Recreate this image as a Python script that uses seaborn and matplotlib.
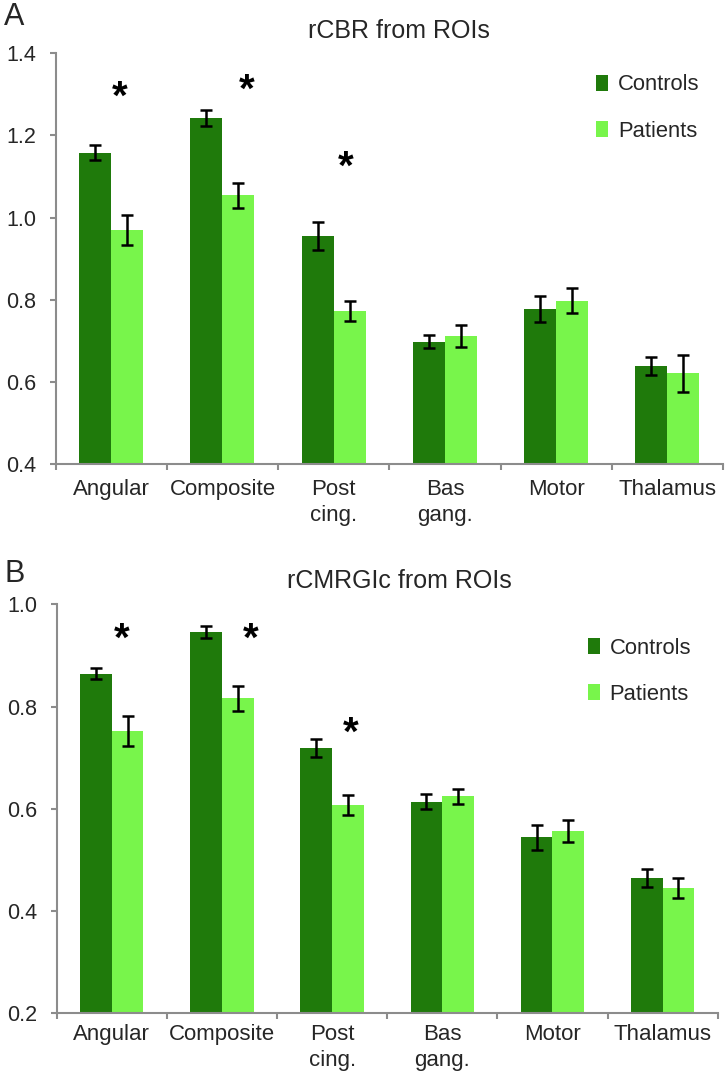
import numpy as np
import pandas as pd
import matplotlib
matplotlib.use("Agg")
import matplotlib.pyplot as plt
import seaborn as sns

regions = ["Angular", "Composite", "Post\ncing.", "Bas\ngang.", "Motor", "Thalamus"]
groups = ["Controls", "Patients"]

cbr_controls = [1.158, 1.242, 0.954, 0.698, 0.777, 0.638]
cbr_patients = [0.970, 1.054, 0.773, 0.712, 0.798, 0.621]
cbr_controls_err = [0.019, 0.019, 0.034, 0.016, 0.031, 0.022]
cbr_patients_err = [0.036, 0.031, 0.024, 0.027, 0.030, 0.045]

glc_controls = [0.864, 0.946, 0.719, 0.614, 0.544, 0.464]
glc_patients = [0.752, 0.816, 0.607, 0.624, 0.556, 0.445]
glc_controls_err = [0.011, 0.011, 0.018, 0.015, 0.025, 0.018]
glc_patients_err = [0.029, 0.025, 0.019, 0.015, 0.021, 0.020]

# significance stars: (category index + offset, value)
cbr_stars = [(0.075, 1.291), (1.217, 1.308), (2.104, 1.122)]
glc_stars = [(0.09, 0.930), (1.26, 0.930), (2.17, 0.7475)]

colors = ["#1f7a0b", "#78f54b"]
FONT = "Liberation Sans"

sns.set_theme(style="white")
plt.rcParams["font.family"] = [FONT, "DejaVu Sans"]

fig = plt.figure(figsize=(7.27, 10.74), dpi=100)


def panel(rect, ctrl, pat, ctrl_err, pat_err, ylim, yticks, stars, title, letter,
          title_y, letter_y, leg_anchor, xpad):
    ax = fig.add_axes(rect)
    df = pd.DataFrame({
        "region": regions * 2,
        "group": [groups[0]] * len(regions) + [groups[1]] * len(regions),
        "value": list(ctrl) + list(pat),
        "err": list(ctrl_err) + list(pat_err),
    })
    sns.barplot(data=df, x="region", y="value", hue="group", order=regions,
                hue_order=groups, palette=colors, width=0.575, gap=0,
                errorbar=None, saturation=1, linewidth=0, ax=ax)
    for cont, errs in zip(ax.containers, [ctrl_err, pat_err]):
        xs = [p.get_x() + p.get_width() / 2 for p in cont.patches]
        ys = [p.get_height() for p in cont.patches]
        ax.errorbar(xs, ys, yerr=errs, fmt="none", ecolor="black",
                    elinewidth=1.8, capsize=4.2, capthick=1.8, zorder=5)
    ax.set_ylim(*ylim)
    ax.set_xlim(-0.5, len(regions) - 0.5)
    ax.set_yticks(yticks)
    ax.set_yticklabels([f"{t:.1f}" for t in yticks], fontsize=15.5)
    ax.set_xticks(range(len(regions)))
    ax.set_xticklabels(regions, fontsize=16, linespacing=1.28)
    ax.set_xticks(np.arange(-0.5, len(regions), 1.0), minor=True)
    ax.tick_params(axis="x", which="major", length=0, pad=xpad)
    ax.tick_params(axis="x", which="minor", length=4, width=1.5, color="#8c8c8c",
                   direction="out", bottom=True)
    ax.tick_params(axis="y", which="major", length=4, width=1.5, color="#8c8c8c",
                   direction="out", left=True, pad=10)
    ax.set_xlabel("")
    ax.set_ylabel("")
    for s in ["top", "right"]:
        ax.spines[s].set_visible(False)
    for s in ["left", "bottom"]:
        ax.spines[s].set_color("#8c8c8c")
        ax.spines[s].set_linewidth(1.5)
    for x, y in stars:
        ax.text(x, y, "*", ha="center", va="center", fontsize=29,
                fontweight="bold", color="black")
    ax.legend(loc="upper left", bbox_to_anchor=leg_anchor, frameon=False,
              fontsize=15.8, handlelength=0.55, handleheight=0.75,
              handletextpad=0.45, labelspacing=1.15, borderaxespad=0)
    fig.text(0.549, title_y, title, ha="center", va="center", fontsize=18)
    fig.text(0.006, letter_y, letter, ha="left", va="center", fontsize=22)
    return ax


panel([0.0765, 0.568, 0.918, 0.3824], cbr_controls, cbr_patients,
      cbr_controls_err, cbr_patients_err, (0.4, 1.4),
      [0.4, 0.6, 0.8, 1.0, 1.2, 1.4], cbr_stars, "rCBR from ROIs", "A",
      1 - 30.7 / 1074, 1 - 17 / 1074, (0.797, 0.97), 11)

panel([0.0779, 0.0568, 0.9093, 0.3805], glc_controls, glc_patients,
      glc_controls_err, glc_patients_err, (0.2, 1.0),
      [0.2, 0.4, 0.6, 0.8, 1.0], glc_stars, "rCMRGIc from ROIs", "B",
      1 - 580.7 / 1074, 1 - 574 / 1074, (0.79, 0.94), 8)

fig.savefig("out.png", dpi=100)
